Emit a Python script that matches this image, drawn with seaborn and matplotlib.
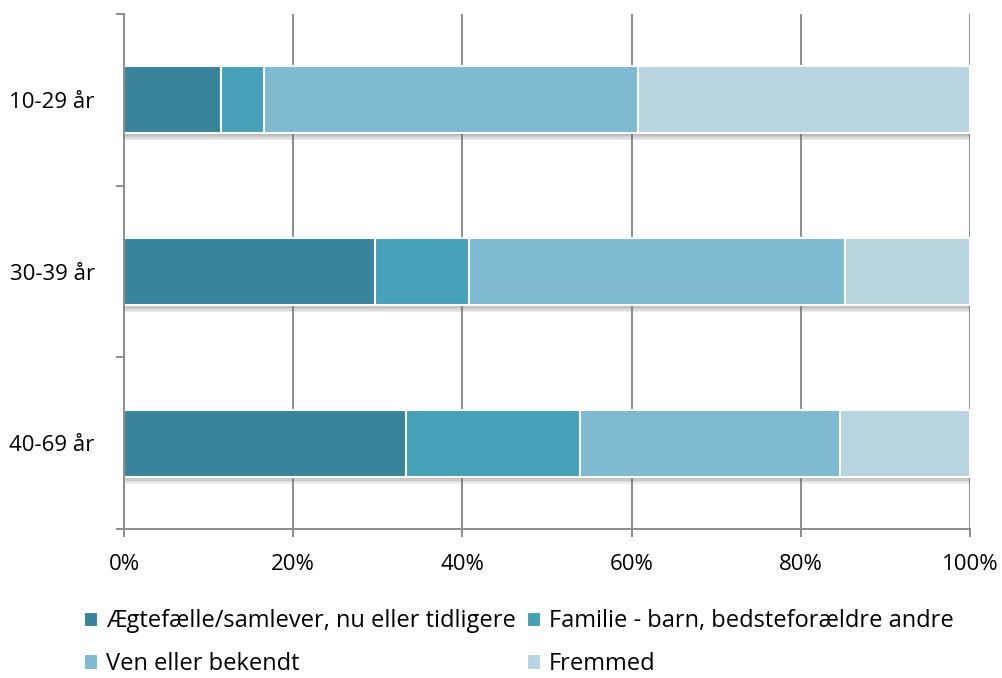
import pandas as pd
import numpy as np
import matplotlib.pyplot as plt
import matplotlib.patheffects as pe
from matplotlib.patches import Patch
from matplotlib.ticker import FixedLocator, PercentFormatter
import seaborn as sns

# --- data (percent of row) ---
groups = ["10-29 år", "30-39 år", "40-69 år"]
series = ["Ægtefælle/samlever, nu eller tidligere",
          "Familie - barn, bedsteforældre andre",
          "Ven eller bekendt",
          "Fremmed"]
aegtefaelle = [11.5, 29.7, 33.3]
familie = [5.0, 11.1, 20.6]
ven = [44.3, 44.4, 30.7]
fremmed = [39.2, 14.8, 15.4]
colors = ["#38849a", "#46a1b8", "#7ebad0", "#b7d4df"]

df = pd.DataFrame({"group": groups, series[0]: aegtefaelle, series[1]: familie,
                   series[2]: ven, series[3]: fremmed})
cum = df[series].cumsum(axis=1)
cum["group"] = df["group"]

sns.set_style("white")
plt.rcParams["font.family"] = ["Open Sans", "DejaVu Sans"]

fig = plt.figure(figsize=(10.03, 6.78), dpi=100)
ax = fig.add_axes([0.1236, 0.2198, 0.8435, 0.7595])

grid_c = "#8c8c8c"
ax.set_axisbelow(True)
ax.xaxis.grid(True, color=grid_c, linewidth=1.4)

# draw widest (cumulative) first so smaller ones sit on top
for i in reversed(range(len(series))):
    sns.barplot(data=cum, x=series[i], y="group", color=colors[i], orient="h",
                width=0.39, edgecolor="white", linewidth=1.5, saturation=1,
                ax=ax)

# soft shadow under the full-length bars
shadow = [pe.SimplePatchShadow(offset=(0, -k), shadow_rgbFace="#666666", alpha=0.12)
          for k in (1, 2, 3, 4, 5)]
for p in ax.patches[:len(groups)]:
    p.set_path_effects(shadow + [pe.Normal()])

ax.set_xlim(0, 100)
ax.set_ylim(2.5, -0.5)
ax.xaxis.set_major_locator(FixedLocator([0, 20, 40, 60, 80, 100]))
ax.xaxis.set_major_formatter(PercentFormatter(decimals=0))
ax.yaxis.set_minor_locator(FixedLocator([-0.5, 0.5, 1.5, 2.5]))
ax.tick_params(axis="y", which="major", length=0, pad=21, labelsize=16, colors="black")
ax.tick_params(axis="y", which="minor", length=6, width=1.4, color=grid_c, left=True)
ax.tick_params(axis="x", length=6, width=1.4, color=grid_c, bottom=True, labelsize=16,
               pad=12, labelcolor="black")
ax.set_xlabel("")
ax.set_ylabel("")
for s in ["top", "right"]:
    ax.spines[s].set_visible(False)
for s in ["left", "bottom"]:
    ax.spines[s].set_color(grid_c)
    ax.spines[s].set_linewidth(1.4)

# legend filled row by row like the original
handles = [Patch(facecolor=c, edgecolor="white", linewidth=0.8) for c in colors]
order = [0, 2, 1, 3]
ax.legend([handles[k] for k in order], [series[k] for k in order],
          loc="upper left", bbox_to_anchor=(-0.058, -0.138), borderaxespad=0,
          ncol=2, frameon=False, fontsize=17, handlelength=0.55, handleheight=0.55,
          handletextpad=0.35, columnspacing=0.5, labelspacing=0.78, labelcolor="black")

fig.savefig("out.png", dpi=100)
